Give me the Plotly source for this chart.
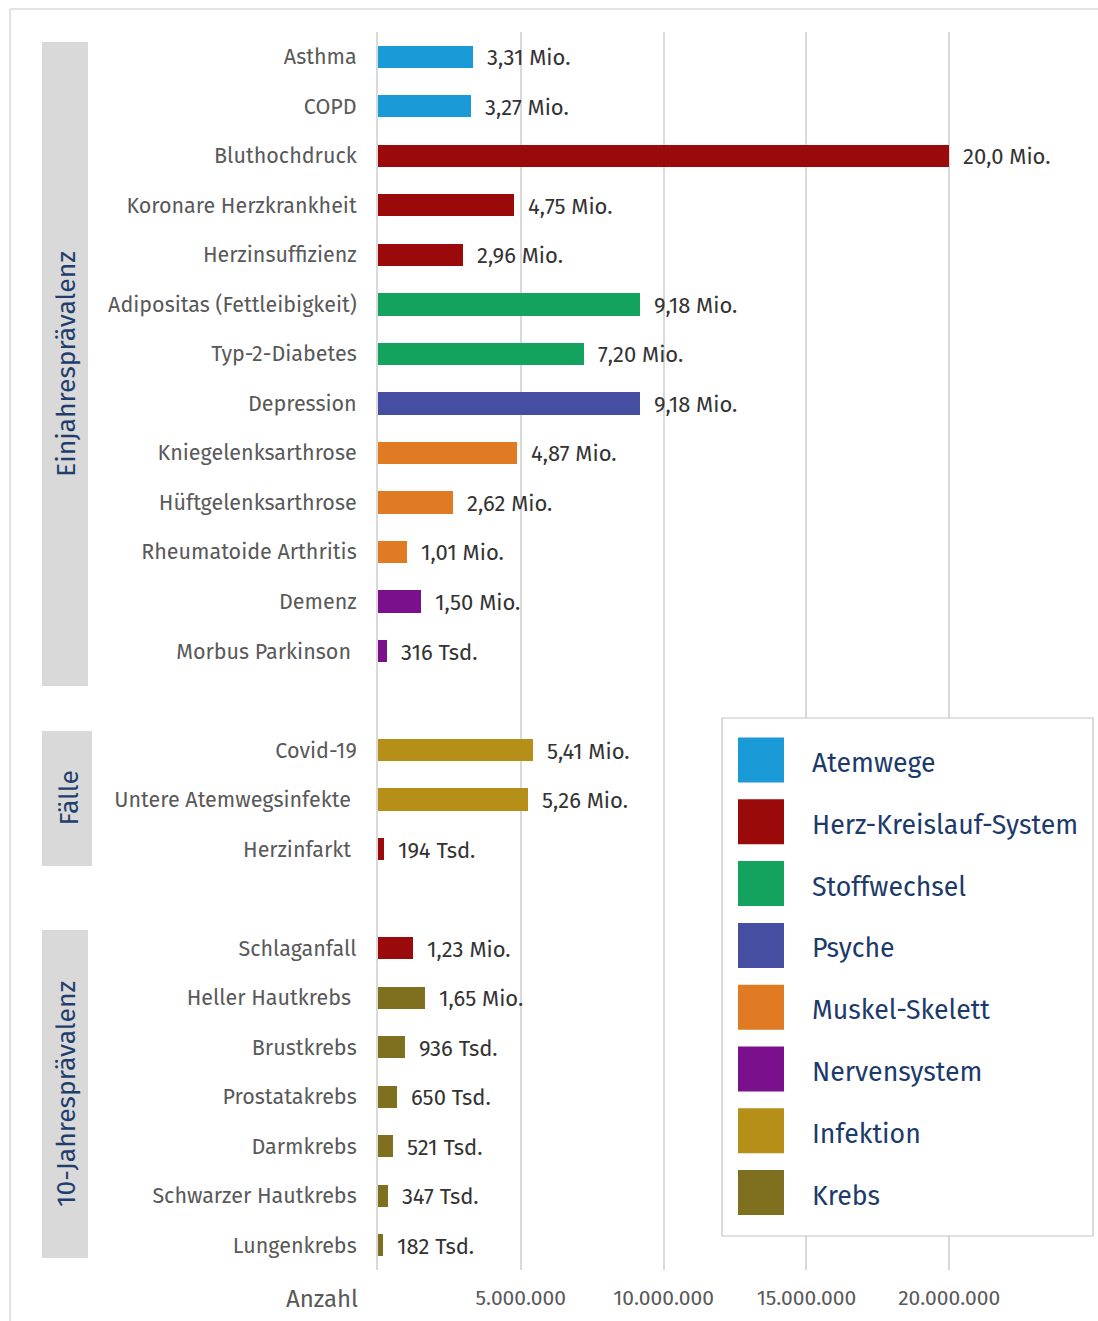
import plotly.graph_objects as go

# ---------------- data ----------------
categories = [
    "Asthma", "COPD", "Bluthochdruck", "Koronare Herzkrankheit", "Herzinsuffizienz",
    "Adipositas (Fettleibigkeit)", "Typ-2-Diabetes", "Depression", "Kniegelenksarthrose",
    "Hüftgelenksarthrose", "Rheumatoide Arthritis", "Demenz", "Morbus Parkinson\u00a0",
    None,
    "Covid-19", "Untere Atemwegsinfekte\u00a0", "Herzinfarkt\u00a0",
    None,
    "Schlaganfall", "Heller Hautkrebs\u00a0", "Brustkrebs", "Prostatakrebs", "Darmkrebs",
    "Schwarzer Hautkrebs", "Lungenkrebs",
]
values = [
    3.31e6, 3.27e6, 20.0e6, 4.75e6, 2.96e6,
    9.18e6, 7.20e6, 9.18e6, 4.87e6,
    2.62e6, 1.01e6, 1.50e6, 0.316e6,
    None,
    5.41e6, 5.26e6, 0.194e6,
    None,
    1.23e6, 1.65e6, 0.936e6, 0.650e6, 0.521e6,
    0.347e6, 0.182e6,
]
value_labels = [
    "3,31 Mio.", "3,27 Mio.", "20,0 Mio.", "4,75 Mio.", "2,96 Mio.",
    "9,18 Mio.", "7,20 Mio.", "9,18 Mio.", "4,87 Mio.",
    "2,62 Mio.", "1,01 Mio.", "1,50 Mio.", "316 Tsd.",
    None,
    "5,41 Mio.", "5,26 Mio.", "194 Tsd.",
    None,
    "1,23 Mio.", "1,65 Mio.", "936 Tsd.", "650 Tsd.", "521 Tsd.",
    "347 Tsd.", "182 Tsd.",
]
groups = [
    "Atemwege", "Atemwege", "Herz-Kreislauf-System", "Herz-Kreislauf-System", "Herz-Kreislauf-System",
    "Stoffwechsel", "Stoffwechsel", "Psyche", "Muskel-Skelett",
    "Muskel-Skelett", "Muskel-Skelett", "Nervensystem", "Nervensystem",
    None,
    "Infektion", "Infektion", "Herz-Kreislauf-System",
    None,
    "Herz-Kreislauf-System", "Krebs", "Krebs", "Krebs", "Krebs",
    "Krebs", "Krebs",
]
legend_names = ["Atemwege", "Herz-Kreislauf-System", "Stoffwechsel", "Psyche",
                "Muskel-Skelett", "Nervensystem", "Infektion", "Krebs"]
legend_colors = ["#1a9ad6", "#9b0a0a", "#14a35e", "#454ea0",
                 "#e07b24", "#7b108c", "#b58f17", "#7f7020"]
section_names = ["Einjahresprävalenz", "Fälle", "10-Jahresprävalenz"]
x_tickvals = [5e6, 10e6, 15e6, 20e6]
x_ticktext = ["5.000.000", "10.000.000", "15.000.000", "20.000.000"]
x_title = "Anzahl"

color_map = dict(zip(legend_names, legend_colors))

FONT = "Fira Sans, Noto Sans, Open Sans, sans-serif"
OFF = 0  # page body margin removed via post_script
W, H = 1098, 1321
ML, MR, MT, MB = 378, 6, 32, 51

def px(xp):
    return (xp - OFF - ML) / (W - ML - MR)

def py(yp):
    return 1 - (yp - OFF - MT) / (H - MT - MB)

fig = go.Figure()

rows = list(range(len(categories)))
for name in legend_names:
    ys = [r for r in rows if groups[r] == name]
    xs = [values[r] for r in ys]
    fig.add_trace(go.Bar(
        x=xs, y=ys, orientation="h", width=0.45,
        marker=dict(color=color_map[name], line=dict(width=0)),
        name=name, showlegend=False, hoverinfo="x+name",
    ))

annotations = []
for r in rows:
    if values[r] is None:
        continue
    annotations.append(dict(
        x=values[r], y=r, xref="x", yref="y", text=value_labels[r],
        showarrow=False, xanchor="left", yanchor="middle", xshift=12, yshift=-1,
        font=dict(family=FONT, size=22, color="#333333"),
    ))

shapes = []
# outer frame lines
shapes.append(dict(type="line", xref="paper", yref="paper",
                   x0=px(10), x1=px(1100), y0=py(9), y1=py(9),
                   line=dict(color="#e1e4e7", width=2), layer="below"))
shapes.append(dict(type="line", xref="paper", yref="paper",
                   x0=px(10), x1=px(10), y0=py(9), y1=py(1325),
                   line=dict(color="#e1e4e7", width=2), layer="below"))

# section boxes
sec_boxes = [(42, 88, 42, 686), (42, 92, 731, 866), (42, 88, 930, 1258)]
for (x0, x1, y0, y1), nm in zip(sec_boxes, section_names):
    shapes.append(dict(type="rect", xref="paper", yref="paper",
                       x0=px(x0), x1=px(x1), y0=py(y0), y1=py(y1),
                       fillcolor="#d9d9d9", line=dict(width=0), layer="below"))
    annotations.append(dict(
        x=px((x0 + x1) / 2 + 1), y=py((y0 + y1) / 2), xref="paper", yref="paper",
        text=nm, showarrow=False, textangle=-90, xanchor="center", yanchor="middle",
        font=dict(family=FONT, size=26.5, color="#1f3e6e"),
    ))

# legend box
shapes.append(dict(type="rect", xref="paper", yref="paper",
                   x0=px(722), x1=px(1093), y0=py(718), y1=py(1236),
                   fillcolor="white", line=dict(color="#c4c4c4", width=1.2)))
for i, (nm, col) in enumerate(zip(legend_names, legend_colors)):
    cy = 760 + i * 61.8
    shapes.append(dict(type="rect", xref="paper", yref="paper",
                       x0=px(738), x1=px(784), y0=py(cy - 22.5), y1=py(cy + 22.5),
                       fillcolor=col, line=dict(width=0)))
    annotations.append(dict(
        x=px(810), y=py(cy + 3), xref="paper", yref="paper", text=nm,
        showarrow=False, xanchor="left", yanchor="middle",
        font=dict(family=FONT, size=26.7, color="#1c3a6a"),
    ))

# x axis title
annotations.append(dict(
    x=px(322), y=py(1299), xref="paper", yref="paper", text=x_title,
    showarrow=False, xanchor="center", yanchor="middle",
    font=dict(family=FONT, size=24, color="#595959"),
))

tick_rows = [r for r in rows if categories[r] is not None]
fig.update_layout(
    width=W, height=H,
    margin=dict(l=ML, r=MR, t=MT, b=MB, pad=0),
    paper_bgcolor="white", plot_bgcolor="white",
    font=dict(family=FONT),
    bargap=0,
    showlegend=False,
    xaxis=dict(
        range=[0, 25e6], tickvals=x_tickvals, ticktext=x_ticktext,
        showgrid=True, gridcolor="#d9d9d9", gridwidth=1.5,
        zeroline=False, showline=False, ticks="",
        tickfont=dict(family=FONT, size=21, color="#595959"),
        ticklabelstandoff=13, fixedrange=True,
    ),
    yaxis=dict(
        range=[24.5, -0.5], tickvals=tick_rows,
        ticktext=[categories[r] for r in tick_rows],
        showgrid=False, zeroline=False, showline=True,
        linecolor="#d9d9d9", linewidth=2, ticks="",
        tickfont=dict(family=FONT, size=21.5, color="#595959"),
        ticklabelstandoff=15, fixedrange=True,
    ),
    shapes=shapes, annotations=annotations,
)

fig.write_html(
    "out.html",
    config={"displayModeBar": False},
    post_script="document.body.style.margin='0';document.body.style.overflow='hidden';",
)
